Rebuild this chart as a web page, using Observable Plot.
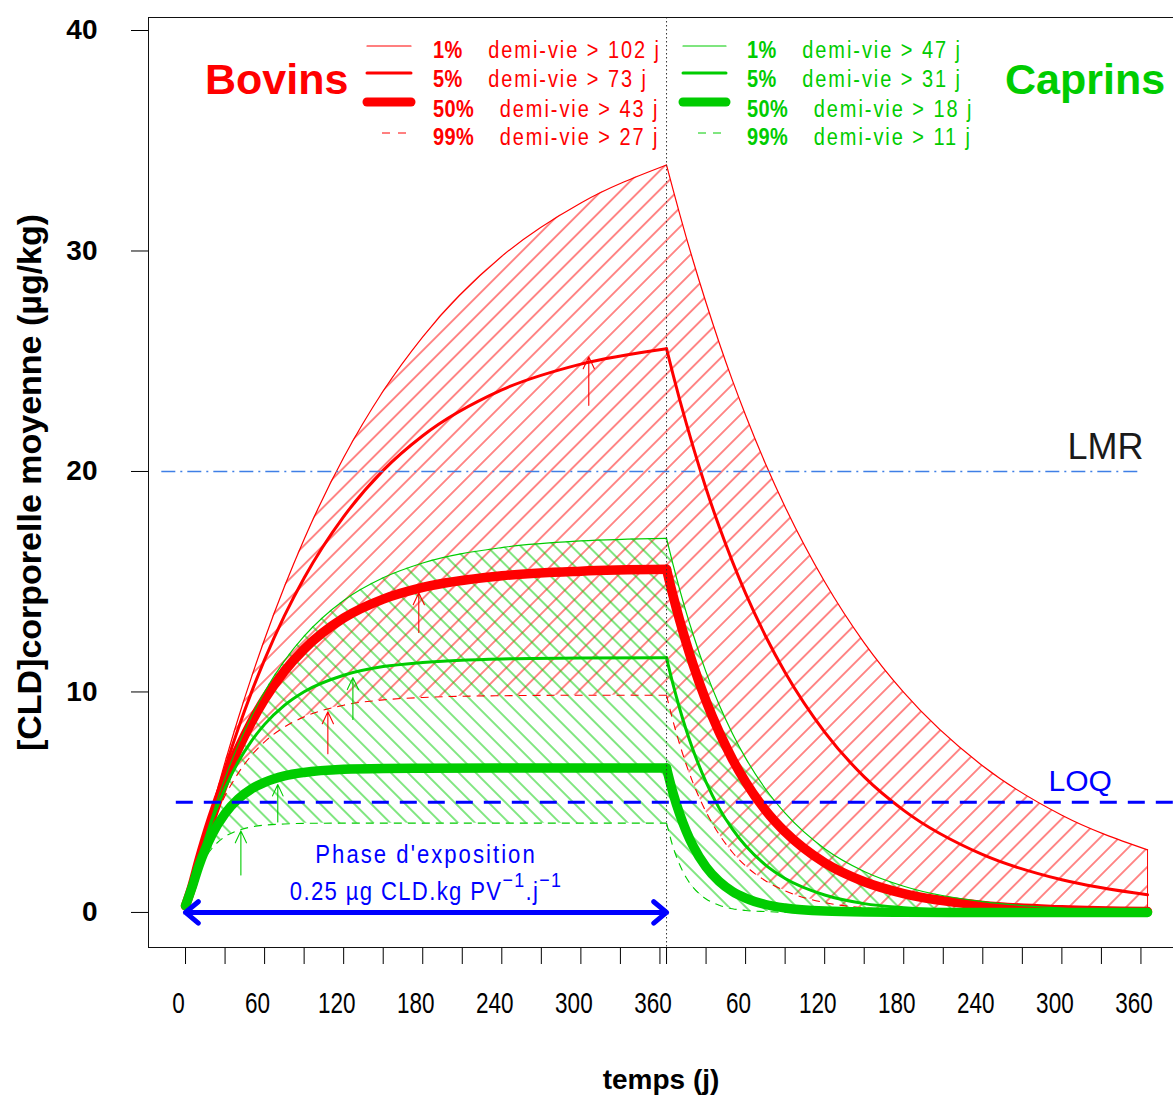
<!DOCTYPE html>
<html><head><meta charset="utf-8">
<script src="https://cdn.jsdelivr.net/npm/d3@7"></script>
<script src="https://cdn.jsdelivr.net/npm/@observablehq/plot@0.6"></script>
<style>
html,body{margin:0;padding:0;background:#fff;overflow:hidden}
#chart svg{display:block}
</style>
</head><body>
<div id="chart"></div>
<script>
// ---------- data ----------
const exposureLength = 365;                        // days of exposure, then depuration
const days = [0,5,10,15,20,30,40,50,60,75,90,120,150,180,240,300,365]; // days into each phase
const percentiles = ["1%","5%","50%","99%"];
const bovinsHalfLife = [102,73,43,27];
const caprinsHalfLife = [47,31,18,11];

// Bovins (µg/kg) exposure phase / depuration phase
const bovinsExpo1  = [0.3,1.24,2.43,3.59,4.70,6.82,8.81,10.66,12.39,14.77,16.93,20.63,23.65,26.11,29.76,32.18,33.90];
const bovinsDepu1  = [33.90,32.77,31.67,30.61,29.59,27.65,25.83,24.13,22.55,20.36,18.39,15.00,12.23,9.98,6.64,4.41,2.84];
const bovinsExpo5  = [0.3,1.22,2.39,3.50,4.57,6.54,8.34,9.98,11.47,13.45,15.17,17.95,20.05,21.62,23.70,24.87,25.57];
const bovinsDepu5  = [25.57,24.38,23.25,22.18,21.15,19.23,17.49,15.91,14.47,12.55,10.88,8.18,6.15,4.63,2.62,1.48,0.80];
const bovinsExpo50 = [0.3,1.21,2.32,3.35,4.30,5.98,7.41,8.63,9.67,10.94,11.94,13.35,14.21,14.74,15.27,15.48,15.56];
const bovinsDepu50 = [15.56,14.35,13.24,12.22,11.27,9.59,8.17,6.95,5.92,4.64,3.65,2.25,1.39,0.85,0.32,0.12,0.04];
const bovinsExpo99 = [0.3,1.19,2.23,3.15,3.96,5.29,6.32,7.12,7.74,8.41,8.87,9.40,9.64,9.75,9.83,9.85,9.85];
const bovinsDepu99 = [9.85,8.66,7.62,6.70,5.89,4.56,3.53,2.73,2.11,1.44,0.98,0.45,0.21,0.10,0.02,0.00,0.00];

// Caprins (µg/kg)
const caprinsExpo1  = [0.3,1.21,2.34,3.38,4.36,6.10,7.60,8.89,10.01,11.41,12.53,14.15,15.18,15.85,16.55,16.85,16.97];
const caprinsDepu1  = [16.97,15.76,14.64,13.60,12.64,10.90,9.41,8.12,7.00,5.61,4.50,2.89,1.86,1.19,0.49,0.20,0.08];
const caprinsExpo5  = [0.3,1.22,2.31,3.29,4.16,5.64,6.83,7.77,8.53,9.39,10.01,10.76,11.15,11.34,11.50,11.54,11.55];
const caprinsDepu5  = [11.55,10.33,9.24,8.26,7.39,5.91,4.72,3.78,3.02,2.16,1.54,0.79,0.40,0.21,0.05,0.01,0.00];
const caprinsExpo50 = [0.3,1.15,2.09,2.87,3.52,4.49,5.15,5.60,5.90,6.19,6.35,6.49,6.53,6.54,6.55,6.55,6.55];
const caprinsDepu50 = [6.55,5.40,4.46,3.68,3.03,2.06,1.40,0.95,0.65,0.36,0.20,0.06,0.02,0.01,0.00,0.00,0.00];
const caprinsExpo99 = [0.3,1.09,1.89,2.48,2.90,3.44,3.72,3.88,3.96,4.01,4.04,4.05,4.05,4.05,4.05,4.05,4.05];
const caprinsDepu99 = [4.05,2.96,2.16,1.57,1.15,0.61,0.33,0.17,0.09,0.04,0.01,0.00,0.00,0.00,0.00,0.00,0.00];

// small arrows (day, from, to) for 5%, 50%, 99%
const bovinsArrowDay  = [306,177,108];
const bovinsArrowFrom = [23.0,12.7,7.2];
const bovinsArrowTo   = [25.2,14.5,9.1];
const caprinsArrowDay  = [127,70,42];
const caprinsArrowFrom = [8.75,4.1,1.7];
const caprinsArrowTo   = [10.65,5.8,3.7];

// reference levels
const refNames  = ["LMR","LOQ"];
const refValues = [20,5];
const refFrom   = [-18,-7];
const refTo     = [723,750];
const refLabelX = [727,703];

// axes
const yTicks = [0,10,20,30,40];
const phaseTickDays = [0,30,60,90,120,150,180,210,240,270,300,330,360];
const expoLabelDays = [0,60,120,180,240,300,360];
const depuLabelDays = [60,120,180,240,300,360];

const phaseLabel = "Phase d'exposition";
const doseParts = ["0.25 µg CLD.kg PV","\u22121",".j","\u22121"];

// ---------- build tables ----------
const RED = "#ff0000", GREEN = "#00cc00", BLUE = "#0000ff";
const SANS = "'Liberation Sans',Arial,sans-serif";

const series = {
  Bovins: {expo:[bovinsExpo1,bovinsExpo5,bovinsExpo50,bovinsExpo99], depu:[bovinsDepu1,bovinsDepu5,bovinsDepu50,bovinsDepu99]},
  Caprins:{expo:[caprinsExpo1,caprinsExpo5,caprinsExpo50,caprinsExpo99], depu:[caprinsDepu1,caprinsDepu5,caprinsDepu50,caprinsDepu99]}
};
function curveRows(sp, k) {
  const s = series[sp];
  return [
    ...days.map((d,i)=>({phase:"expo", x:d, y:s.expo[k][i]})),
    ...days.map((d,i)=>({phase:"depu", x:exposureLength+d, y:s.depu[k][i]}))
  ];
}
function hatchRows(sp) {
  const s = series[sp];
  return [
    ...days.map((d,i)=>({phase:"expo", x:d, lo:s.expo[3][i], hi:s.expo[0][i]})),
    ...days.map((d,i)=>({phase:"depu", x:exposureLength+d, lo:s.depu[3][i], hi:s.depu[0][i]}))
  ];
}
const lineStyle = [
  {w:1.2, dash:null},
  {w:3, dash:null},
  {w:9.5, dash:null},
  {w:1.1, dash:"8,6"}
];
function speciesLines(sp, color) {
  return percentiles.map((p,k)=>Plot.line(curveRows(sp,k), {
    x:"x", y:"y", z:"phase", stroke:color, strokeWidth:lineStyle[k].w,
    strokeDasharray: lineStyle[k].dash || undefined,
    strokeLinecap: lineStyle[k].dash ? "butt" : "round", strokeLinejoin:"round",
    curve:"monotone-x"
  }));
}
const bovEnd = [{x: exposureLength + days[days.length-1], y1: bovinsDepu99[bovinsDepu99.length-1], y2: bovinsDepu1[bovinsDepu1.length-1]}];
const bovArrows = bovinsArrowDay.map((d,i)=>({d, a:bovinsArrowFrom[i], b:bovinsArrowTo[i]}));
const capArrows = caprinsArrowDay.map((d,i)=>({d, a:caprinsArrowFrom[i], b:caprinsArrowTo[i]}));
const refs = refNames.map((n,i)=>({n, v:refValues[i], x1:refFrom[i], x2:refTo[i], lx:refLabelX[i]}));
const mid = exposureLength/2;

const plot = Plot.plot({
  width:1173, height:1095,
  marginLeft:148, marginRight:0, marginTop:17, marginBottom:148,
  x:{domain:[-28.1, 749.7]},
  y:{domain:[-1.59, 40.59]},
  style:{fontFamily:SANS, background:"#fff", color:"#000"},
  marks:[
    Plot.areaY(hatchRows("Bovins"), {x:"x", y1:"lo", y2:"hi", z:"phase", fill:"url(#hatchBovins)", curve:"monotone-x"}),
    Plot.areaY(hatchRows("Caprins"), {x:"x", y1:"lo", y2:"hi", z:"phase", fill:"url(#hatchCaprins)", curve:"monotone-x"}),
    Plot.ruleX(bovEnd, {x:"x", y1:"y1", y2:"y2", stroke:RED, strokeWidth:1}),
    ...speciesLines("Bovins", RED),
    ...speciesLines("Caprins", GREEN),
    Plot.arrow(bovArrows, {x:"d", y1:"a", y2:"b", stroke:RED, strokeWidth:1.1, headLength:18, headAngle:50}),
    Plot.arrow(capArrows, {x:"d", y1:"a", y2:"b", stroke:GREEN, strokeWidth:1.1, headLength:18, headAngle:50}),
    Plot.ruleY(refs.filter(r=>r.n==="LMR"), {y:"v", x1:"x1", x2:"x2", stroke:"#3f7fe6", strokeWidth:1.6, strokeDasharray:"14,5,2,5"}),
    Plot.ruleY(refs.filter(r=>r.n==="LOQ"), {y:"v", x1:"x1", x2:"x2", stroke:BLUE, strokeWidth:3, strokeDasharray:"17,11"}),
    Plot.text(refs.filter(r=>r.n==="LMR"), {x:"lx", y:"v", text:"n", dy:-12, lineAnchor:"bottom", textAnchor:"end", fontSize:36, fill:"#1a1a1a"}),
    Plot.text(refs.filter(r=>r.n==="LOQ"), {x:"lx", y:"v", text:"n", dy:-11, lineAnchor:"bottom", textAnchor:"end", fontSize:30, fill:BLUE}),
    Plot.ruleX([exposureLength], {stroke:"#333", strokeWidth:1, strokeDasharray:"1.5,2.5"}),
    Plot.arrow([0, exposureLength], {x1:mid, y1:0, x2:d=>d, y2:0, stroke:BLUE, strokeWidth:5, headLength:5, headAngle:80, strokeLinecap:"round", strokeLinejoin:"round"}),
    Plot.text([phaseLabel], {x:mid, y:0, dy:-49, text:d=>d, lineAnchor:"bottom", fontSize:26, fill:BLUE}),
    Plot.text([doseParts.join("")], {x:mid, y:0, dy:-12, text:d=>d, lineAnchor:"bottom", fontSize:26, fill:BLUE}),
    Plot.axisY({ticks:yTicks, tickSize:17, tickPadding:34, fontSize:28, fontWeight:"bold", label:null}),
    Plot.axisX({ticks:[...phaseTickDays, ...phaseTickDays.map(d=>exposureLength+d)], tickSize:17, tickFormat:()=>"", label:null}),
    Plot.axisX({ticks:[...expoLabelDays, ...depuLabelDays.map(d=>exposureLength+d)], tickSize:0, tickPadding:44, dx:-7,
      tickFormat:d=> d>=exposureLength ? d-exposureLength : d, fontSize:30, label:null}),
    Plot.frame({stroke:"#111", insetRight:-6}),
    Plot.text(["[CLD]corporelle moyenne (µg/kg)"], {frameAnchor:"left", dx:-118, rotate:-90, textAnchor:"middle", text:d=>d, fontSize:34, fontWeight:"bold"}),
    Plot.text(["temps (j)"], {frameAnchor:"bottom", dy:141, lineAnchor:"bottom", text:d=>d, fontSize:28, fontWeight:"bold"})
  ]
});
document.getElementById("chart").appendChild(plot);
const svg = d3.select(plot);

// ---------- helpers ----------
// horizontally condense a text around its anchor point
function condense(sel, s, spacing) {
  sel.each(function(){
    const tr = this.getAttribute("transform");
    if (tr) {
      this.setAttribute("transform", `${tr} scale(${s},1)`);
    } else {
      const x = +(this.getAttribute("x") || 0), y = +(this.getAttribute("y") || 0);
      this.removeAttribute("x"); this.removeAttribute("y");
      this.setAttribute("transform", `translate(${x},${y}) scale(${s},1)`);
    }
    if (spacing != null) this.setAttribute("letter-spacing", spacing);
  });
}

// ---------- hatch patterns ----------
const defs = svg.insert("defs", ":first-child");
function hatch(id, angle, color, spacing, opacity, width) {
  const p = defs.append("pattern").attr("id", id).attr("patternUnits","userSpaceOnUse")
    .attr("width", spacing).attr("height", spacing).attr("patternTransform", `rotate(${angle})`);
  p.append("line").attr("x1",-1).attr("y1",spacing/2).attr("x2",spacing+1).attr("y2",spacing/2)
    .attr("stroke", color).attr("stroke-width", width).attr("stroke-opacity", opacity);
}
hatch("hatchBovins", -45, RED, 13.5, 0.85, 1.1);
hatch("hatchCaprins", 45, GREEN, 12, 0.9, 1.1);

// ---------- superscripts in dose label, condensed blue texts ----------
svg.selectAll("text").filter(function(){ return this.textContent === doseParts.join(""); }).each(function(){
  const t = d3.select(this); t.text("");
  doseParts.forEach((part, i) => {
    const sup = i % 2 === 1;
    t.append("tspan").attr("dy", sup ? -13 : (i>0 ? 13 : 0)).attr("font-size", sup ? 21 : null).text(part);
  });
  condense(t, 0.85, "1.6px");
});
condense(svg.selectAll("text").filter(function(){ return this.textContent === phaseLabel; }), 0.85, "2.4px");
// condensed x tick labels
condense(svg.selectAll('g[aria-label="x-axis tick label"] text'), 0.75, null);

// ---------- legend (inside the plot, top) ----------
const lineY = [46,73,102,133];
const textY = [58,87,117,145];
const legendSpecs = [
  {name:"Bovins", color:RED, nameX:205, x1:367, x2:411, d1:382, d2:406, dash:"8,8", tx:433, half:bovinsHalfLife},
  {name:"Caprins", color:GREEN, nameX:1005, x1:683, x2:726, d1:698, d2:722, dash:"8,7", tx:747, half:caprinsHalfLife}
];
const lg = svg.append("g").attr("text-anchor","start");
legendSpecs.forEach(s => {
  lg.append("text").attr("x", s.nameX).attr("y", 94).attr("fill", s.color)
    .attr("font-family", SANS).attr("font-weight","bold").attr("font-size", 43).text(s.name);
  percentiles.forEach((p,k) => {
    const st = lineStyle[k];
    const ln = lg.append("line").attr("y1", lineY[k]).attr("y2", lineY[k]).attr("stroke", s.color)
      .attr("stroke-width", k===3 ? 1 : (k===2 ? 9 : st.w));
    if (k===3) ln.attr("x1", s.d1).attr("x2", s.d2).attr("stroke-dasharray", s.dash);
    else ln.attr("x1", s.x1).attr("x2", s.x2).attr("stroke-linecap","round");
    const t = lg.append("text").attr("x", s.tx).attr("y", textY[k]).attr("fill", s.color)
      .attr("font-family", SANS).attr("font-size", 23.5);
    t.append("tspan").attr("font-weight","bold").attr("letter-spacing","0.5px").text(p);
    t.append("tspan").attr("dx", 30).attr("letter-spacing","2.3px").text(`demi-vie > ${s.half[k]} j`);
    condense(t, 0.85, null);
  });
});
</script>
</body></html>
